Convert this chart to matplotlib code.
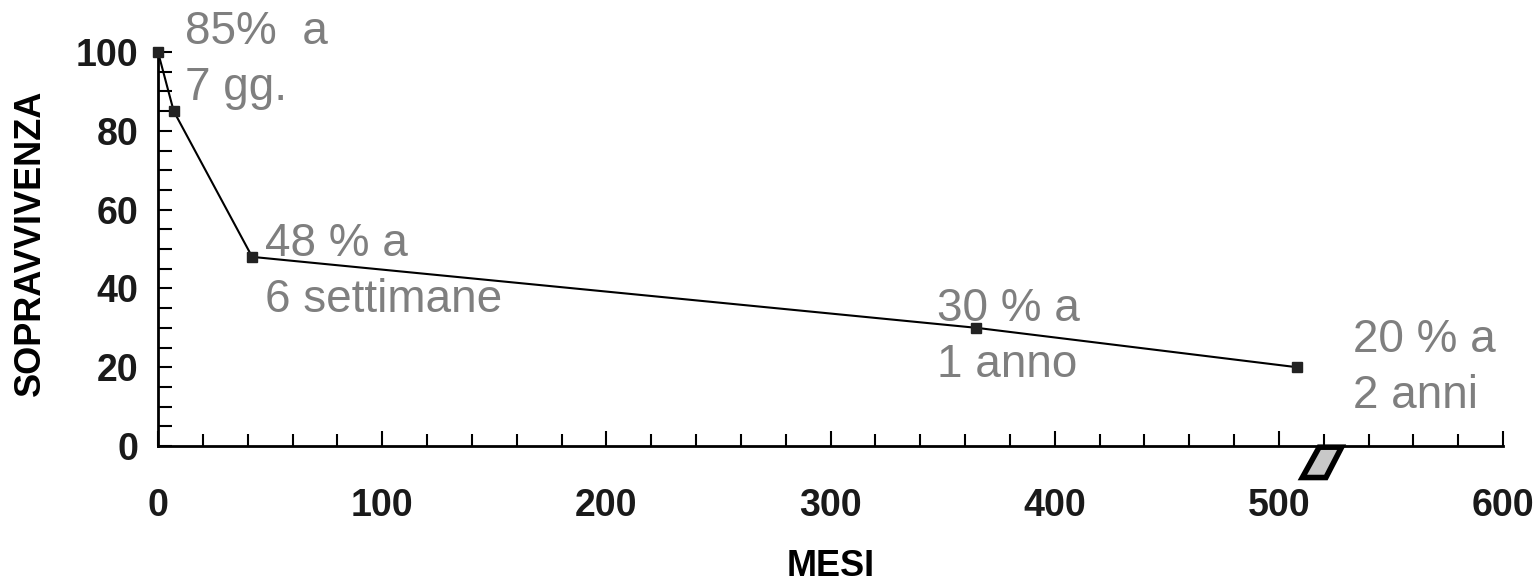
import numpy as np
import matplotlib.pyplot as plt
from matplotlib.patches import Polygon

plt.rcParams['font.family'] = ['Liberation Sans', 'DejaVu Sans']

# Data
mesi = [0, 7, 42, 365, 508]
sopravvivenza = [100, 85, 48, 30, 20]
etichette = ["85%  a\n7 gg.", "48 % a\n6 settimane", "30 % a\n1 anno", "20 % a\n2 anni"]
# posizione della riga inferiore (baseline) di ogni etichetta
pos_etichette = [(12, 87.8), (47.7, 34.0), (347.5, 17.5), (533, 9.6)]
x_ticks = [0, 100, 200, 300, 400, 500, 600]
y_ticks = [0, 20, 40, 60, 80, 100]

fig = plt.figure(figsize=(15.4, 5.82), dpi=100)
ax = fig.add_axes([158 / 1540, 136 / 582, (1503 - 158) / 1540, (446 - 52) / 582])

ax.plot(mesi, sopravvivenza, color='black', lw=1.5, marker='s', ms=7,
        mfc='#222222', mec='#222222', clip_on=False, zorder=3)

for testo, (x, y) in zip(etichette, pos_etichette):
    ax.text(x, y, testo, fontsize=33, color='#7f7f7f', ha='left', va='baseline',
            linespacing=1.36)

ax.set_xlim(0, 600)
ax.set_ylim(0, 100)
ax.set_xticks(x_ticks)
ax.set_yticks(y_ticks)
ax.set_xticks(np.arange(0, 601, 20), minor=True)
ax.set_yticks(np.arange(0, 101, 5), minor=True)

for s in ['top', 'right']:
    ax.spines[s].set_visible(False)
for s in ['left', 'bottom']:
    ax.spines[s].set_linewidth(2)

ax.tick_params(axis='x', which='major', direction='in', length=11, width=1.5, pad=30)
ax.tick_params(axis='x', which='minor', direction='in', length=9, width=1.5)
ax.tick_params(axis='y', which='both', direction='in', length=10, width=1.5, pad=14)
ax.tick_params(labelsize=27, labelcolor='#1a1a1a')
for lab in ax.get_xticklabels() + ax.get_yticklabels():
    lab.set_fontweight('bold')

ax.set_xlabel('MESI', fontsize=26, fontweight='bold', labelpad=18)
ax.set_ylabel('SOPRAVVIVENZA', fontsize=26, fontweight='bold')
ax.yaxis.set_label_coords(-0.082, 0.516)

# segno di interruzione dell'asse
rottura = Polygon([(518, -0.3), (528, -0.3), (521, -8), (510.5, -8)], closed=True,
                  facecolor='#c8c8c8', edgecolor='black', lw=4, clip_on=False, zorder=4)
ax.add_patch(rottura)

fig.savefig('out.png', dpi=100)
